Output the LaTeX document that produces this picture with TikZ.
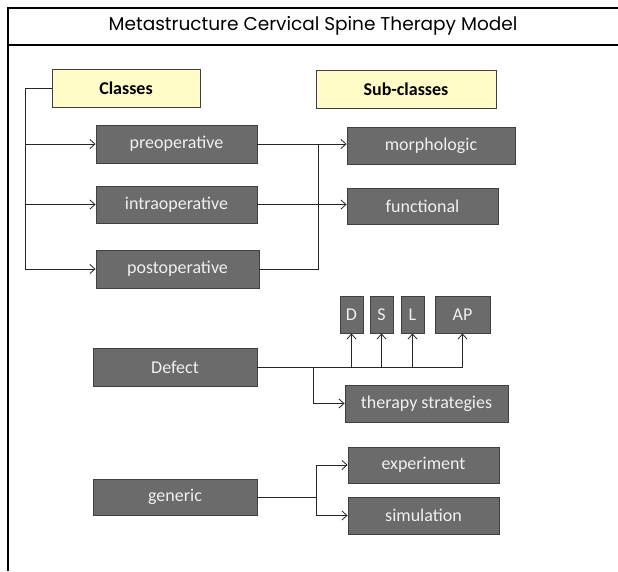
\documentclass[tikz,border=0pt]{standalone}
\usepackage{fontspec}
\setmainfont{Carlito}
\newfontfamily\titlefont{Poppins}
\usetikzlibrary{arrows.meta}
\begin{document}
\begin{tikzpicture}[x=1pt, y=-1pt,
    darkbox/.style={draw=black!75, fill=black!58, text=black!6, line width=0.9pt,
      inner sep=0pt, font=\fontsize{18}{18}\selectfont},
    headbox/.style={draw=black!75, fill=yellow!22, line width=0.9pt,
      inner sep=0pt, font=\bfseries\fontsize{18}{18}\selectfont},
    link/.style={draw=black!85, line width=0.8pt},
    arrow/.style={link, -{Straight Barb[length=5pt, width=9pt]}}]
    \useasboundingbox (0, 0) rectangle (618, 571);

    % frame and title
    \draw [line width=1.1pt] (8, 571) -- (8, 8) -- (618, 8);
    \draw [line width=1.1pt] (8, 45) -- (618, 45);
    \node (title) at (313, 26) {\titlefont\fontsize{18.5}{18.5}\selectfont Metastructure Cervical Spine Therapy Model};

    % headers
    \node [headbox, minimum width=148pt, minimum height=38pt] (classes) at (126, 88) {Classes};
    \node [headbox, minimum width=180pt, minimum height=38pt] (subclasses) at (406, 89) {Sub-classes};

    % classes
    \node [darkbox, minimum width=161pt, minimum height=38pt] (pre) at (176.5, 144) {preoperative};
    \node [darkbox, minimum width=161pt, minimum height=37pt] (intra) at (176.5, 204.5) {intraoperative};
    \node [darkbox, minimum width=163pt, minimum height=38pt] (post) at (177.5, 269) {postoperative};

    % sub-classes
    \node [darkbox, minimum width=168pt, minimum height=37pt] (morph) at (431, 145.5) {morphologic};
    \node [darkbox, minimum width=151pt, minimum height=36pt] (func) at (422.5, 206) {functional};

    % defect
    \node [darkbox, minimum width=23pt, minimum height=37pt] (D) at (351.5, 314.5) {D};
    \node [darkbox, minimum width=23pt, minimum height=37pt] (S) at (381.5, 314.5) {S};
    \node [darkbox, minimum width=23pt, minimum height=37pt] (L) at (412.5, 314.5) {L};
    \node [darkbox, minimum width=55pt, minimum height=37pt] (AP) at (462.5, 314.5) {AP};
    \node [darkbox, minimum width=164pt, minimum height=38pt] (defect) at (175, 367) {Defect};
    \node [darkbox, minimum width=163pt, minimum height=37pt] (therapy) at (426.5, 403.5) {therapy strategies};

    % generic
    \node [darkbox, minimum width=164pt, minimum height=36pt] (generic) at (175, 497) {generic};
    \node [darkbox, minimum width=151pt, minimum height=36pt] (experiment) at (423.5, 465) {experiment};
    \node [darkbox, minimum width=151pt, minimum height=37pt] (simulation) at (423.5, 515.5) {simulation};

    \coordinate (lj) at (25, 0);
    \coordinate (rj) at (318, 0);
    \coordinate (dj) at (313, 0);
    \coordinate (gj) at (316, 0);

    % class connectors
    \draw [link] (classes.west) -- (classes.west -| lj) -- (post.west -| lj);
    \foreach \n in {pre, intra, post}
      \draw [arrow] (\n.west -| lj) -- (\n.west);
    \draw [arrow] (pre.east) -- (pre.east -| morph.west);
    \draw [arrow] (intra.east) -- (intra.east -| func.west);
    \draw [link] (post.east) -| (pre.east -| rj);

    % defect connectors
    \draw [link] (defect.east) -- (defect.east -| AP.south);
    \foreach \n in {D, S, L, AP}
      \draw [arrow] (defect.east -| \n.south) -- (\n.south);
    \draw [arrow] (defect.east -| dj) |- (therapy.west);

    % generic connectors
    \draw [link] (generic.east) -- (generic.east -| gj);
    \draw [arrow] (generic.east -| gj) |- (experiment.west);
    \draw [arrow] (generic.east -| gj) |- (simulation.west);

  \end{tikzpicture}
\end{document}
